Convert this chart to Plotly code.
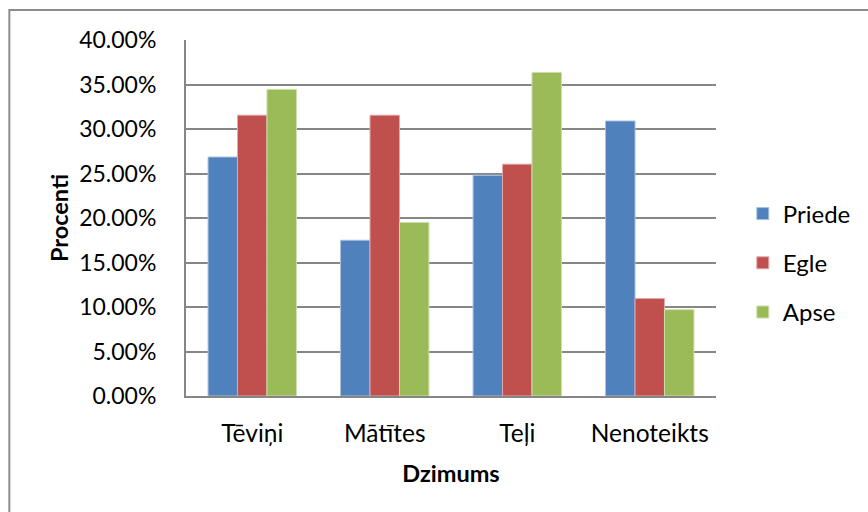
import plotly.graph_objects as go

categories = ["Tēviņi", "Mātītes", "Teļi", "Nenoteikts"]
series_names = ["Priede", "Egle", "Apse"]
priede = [0.2685, 0.1750, 0.2480, 0.3090]
egle = [0.3155, 0.3155, 0.2605, 0.1095]
apse = [0.3445, 0.1950, 0.3635, 0.0970]
colors = ["#4F81BD", "#C0504D", "#9BBB59"]
edge_colors = ["#A7C0DE", "#E0A8A6", "#CDDDAC"]
tick_vals = [0, 0.05, 0.10, 0.15, 0.20, 0.25, 0.30, 0.35, 0.40]
tick_text = ["0.00%", "5.00%", "10.00%", "15.00%", "20.00%", "25.00%", "30.00%", "35.00%", "40.00%"]

FONT = "Lato"
FS = 23

fig = go.Figure()
for i, (name, vals) in enumerate(zip(series_names, [priede, egle, apse])):
    fig.add_trace(go.Bar(
        x=categories, y=vals, name=name,
        marker=dict(color=colors[i], line=dict(color=edge_colors[i], width=1)),
        legendgroup=name,
    ))

W, H = 868, 512
L, R, T, B = 186, 148, 40, 116
pw, ph = W - L - R, H - T - B

def px_x(x):
    return (x - L) / pw

def px_y(y):
    return (H - B - y) / ph

fig.update_layout(
    width=W, height=H,
    margin=dict(l=L, r=R, t=T, b=B, pad=0),
    paper_bgcolor="white", plot_bgcolor="white",
    font=dict(family=FONT, size=FS, color="#000000"),
    barmode="group", bargap=0.333, bargroupgap=0,
    showlegend=True,
    legend=dict(
        x=px_x(747), y=px_y(263), xanchor="left", yanchor="middle",
        font=dict(family=FONT, size=FS + 1), tracegroupgap=15,
        bgcolor="rgba(0,0,0,0)",
    ),
    xaxis=dict(
        showgrid=False, showline=True, linecolor="#868686", linewidth=2,
        ticks="", ticklabelstandoff=15, tickfont=dict(family=FONT, size=FS + 1.5),
        title=dict(text="<b>Dzimums</b>", font=dict(family=FONT, size=FS + 0.5), standoff=19),
        fixedrange=True,
    ),
    yaxis=dict(
        range=[0, 0.40], tickvals=tick_vals, ticktext=tick_text,
        showgrid=True, gridcolor="#868686", gridwidth=2,
        showline=True, linecolor="#868686", linewidth=2,
        zeroline=False, ticks="", ticklabelstandoff=23,
        tickfont=dict(family=FONT, size=FS),
        title=dict(text="<b>Procenti</b>", font=dict(family=FONT, size=FS + 0.5), standoff=4),
        fixedrange=True,
    ),
    shapes=[dict(
        type="rect", xref="paper", yref="paper",
        x0=px_x(8), x1=px_x(900), y0=px_y(540), y1=px_y(10),
        line=dict(color="#8C8C8C", width=2), fillcolor="rgba(0,0,0,0)", layer="below",
    )],
)

fig.write_html("out.html")
